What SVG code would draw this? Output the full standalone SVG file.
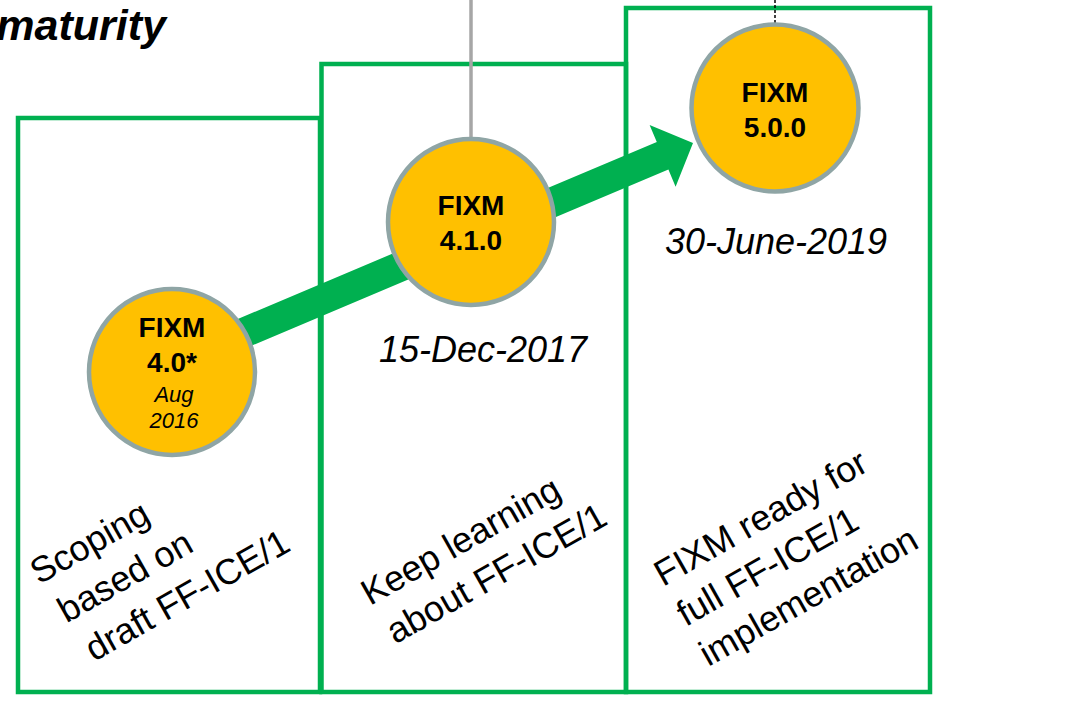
<svg xmlns="http://www.w3.org/2000/svg" width="1067" height="702" viewBox="0 0 1067 702">
  <style>
    .box { fill: none; stroke: #00B050; stroke-width: 4.5; }
    .ms { fill: #FFC000; stroke: #8FA5A5; stroke-width: 4.5; }
    .t { font-family: "Liberation Sans", Arial, sans-serif; fill: #000; }
    .b { font-weight: bold; font-size: 28px; text-anchor: middle; }
    .i { font-style: italic; font-size: 22px; text-anchor: middle; }
    .date { font-style: italic; font-size: 36px; text-anchor: middle; }
    .rot { font-size: 36px; }
  </style>
  <rect width="1067" height="702" fill="#FFFFFF"/>

  <text class="t" x="166" y="40" font-size="43" font-weight="bold" font-style="italic" text-anchor="end">maturity</text>

  <g id="phase1">
    <rect class="box" x="18" y="118" width="302" height="574"/>
    <text class="t rot" transform="translate(39,585) rotate(-29.5)">
      <tspan x="0" y="0">Scoping</tspan>
      <tspan x="5" y="47">based on</tspan>
      <tspan x="10" y="94">draft FF-ICE/1</tspan>
    </text>
  </g>
  <g id="phase2">
    <rect class="box" x="321.5" y="64" width="304.5" height="628"/>
    <text class="t date" x="483" y="362">15-Dec-2017</text>
    <text class="t rot" transform="translate(370,606) rotate(-29.5)">
      <tspan x="0" y="0">Keep learning</tspan>
      <tspan x="3" y="46">about FF-ICE/1</tspan>
    </text>
  </g>
  <g id="phase3">
    <rect class="box" x="626" y="8" width="304" height="684"/>
    <text class="t date" x="776" y="254">30-June-2019</text>
    <text class="t rot" transform="translate(663,587) rotate(-29.5)">
      <tspan x="0" y="0">FIXM ready for</tspan>
      <tspan x="0" y="46">full FF-ICE/1</tspan>
      <tspan x="0" y="92">implementation</tspan>
    </text>
  </g>

  <g id="connectors">
    <line x1="471" y1="0" x2="471" y2="140" stroke="#A6A6A6" stroke-width="3.5"/>
    <line x1="775" y1="0" x2="775" y2="24" stroke="#000" stroke-width="1.5" stroke-dasharray="3,2"/>
    <polygon fill="#00B050" points="194.2,337.4 656.8,142 649.6,124.9 693,143 675.6,186.7 668.4,169.6 205.8,365"/>
  </g>

  <g id="fixm40">
    <circle class="ms" cx="172" cy="372" r="83"/>
    <text class="t b" x="172" y="337">FIXM</text>
    <text class="t b" x="172" y="372">4.0*</text>
    <text class="t i" x="174" y="402">Aug</text>
    <text class="t i" x="174" y="428">2016</text>
  </g>
  <g id="fixm410">
    <circle class="ms" cx="471" cy="222" r="83"/>
    <text class="t b" x="471" y="215">FIXM</text>
    <text class="t b" x="471" y="250">4.1.0</text>
  </g>
  <g id="fixm500">
    <circle class="ms" cx="775" cy="108" r="83.5"/>
    <text class="t b" x="775" y="102">FIXM</text>
    <text class="t b" x="775" y="137">5.0.0</text>
  </g>
</svg>
